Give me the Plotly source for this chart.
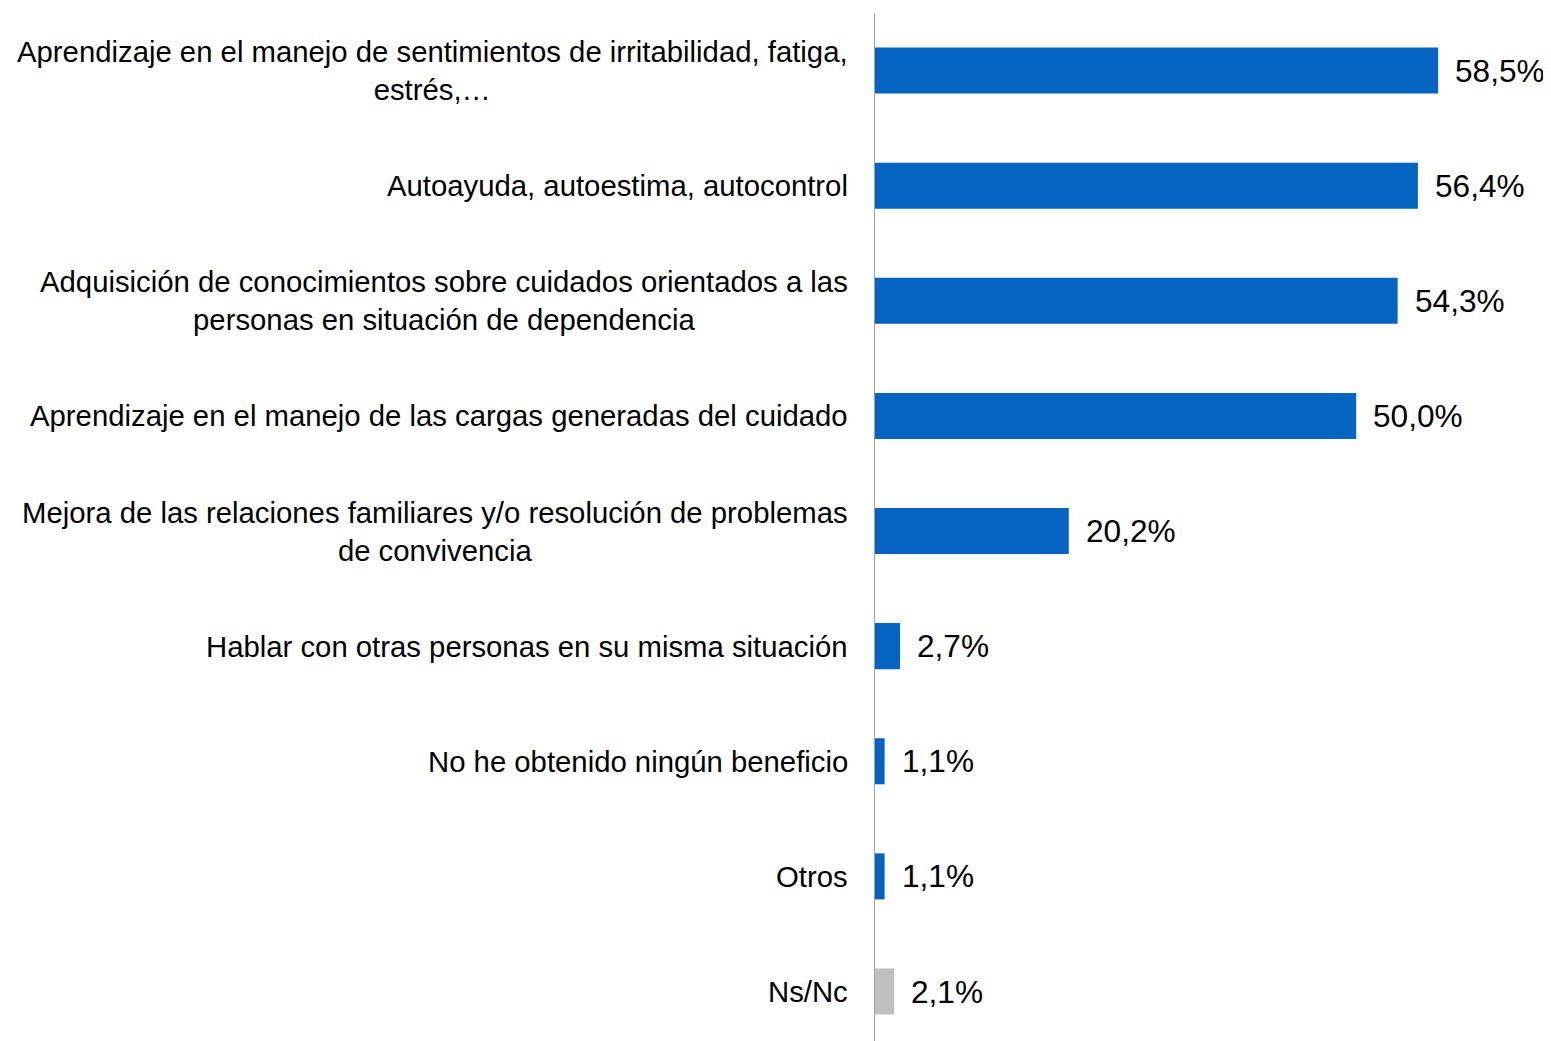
import plotly.graph_objects as go

categories = [
    "Aprendizaje en el manejo de sentimientos de irritabilidad, fatiga,<br>estrés,…",
    "Autoayuda, autoestima, autocontrol",
    "Adquisición de conocimientos sobre cuidados orientados a las<br>personas en situación de dependencia",
    "Aprendizaje en el manejo de las cargas generadas del cuidado",
    "Mejora de las relaciones familiares y/o resolución de problemas<br>de convivencia",
    "Hablar con otras personas en su misma situación",
    "No he obtenido ningún beneficio",
    "Otros",
    "Ns/Nc",
]
values = [58.5, 56.4, 54.3, 50.0, 20.2, 2.7, 1.1, 1.1, 2.1]
value_labels = ["58,5%", "56,4%", "54,3%", "50,0%", "20,2%", "2,7%", "1,1%", "1,1%", "2,1%"]
bar_colors = ["#0563C1"] * 8 + ["#BFBFBF"]

idx = list(range(len(categories)))

fig = go.Figure()
fig.add_trace(go.Bar(
    x=values, y=idx, orientation="h",
    marker=dict(color=bar_colors, line=dict(width=0)),
    width=0.4, hoverinfo="skip",
))

annotations = []
for i, (c, v, t) in enumerate(zip(categories, values, value_labels)):
    annotations.append(dict(
        x=0, xref="paper", y=i, yref="y", text=c,
        xanchor="right", yanchor="middle", align="center",
        xshift=-24, showarrow=False,
        font=dict(family="Liberation Sans, Arial, sans-serif", size=29.3, color="#000000"),
    ))
    annotations.append(dict(
        x=v, xref="x", y=i, yref="y", text=t,
        xanchor="left", yanchor="middle", xshift=15, showarrow=False,
        font=dict(family="Liberation Sans, Arial, sans-serif", size=31.6, color="#000000"),
    ))

fig.update_layout(
    width=1543, height=1033,
    margin=dict(l=866, r=0, t=5, b=0, pad=0),
    paper_bgcolor="white", plot_bgcolor="white",
    showlegend=False,
    xaxis=dict(range=[0, 70.2], showgrid=False, zeroline=False, showticklabels=False,
               showline=False, fixedrange=True),
    yaxis=dict(range=[8.43, -0.5], showgrid=False, zeroline=False, showticklabels=False,
               showline=False, ticks="", fixedrange=True),
    shapes=[dict(type="line", xref="x", yref="paper", x0=0, x1=0, y0=0, y1=1,
                 line=dict(color="#A0A0A0", width=2))],
    annotations=annotations,
)

fig.write_html("out.html", config={"displayModeBar": False})
